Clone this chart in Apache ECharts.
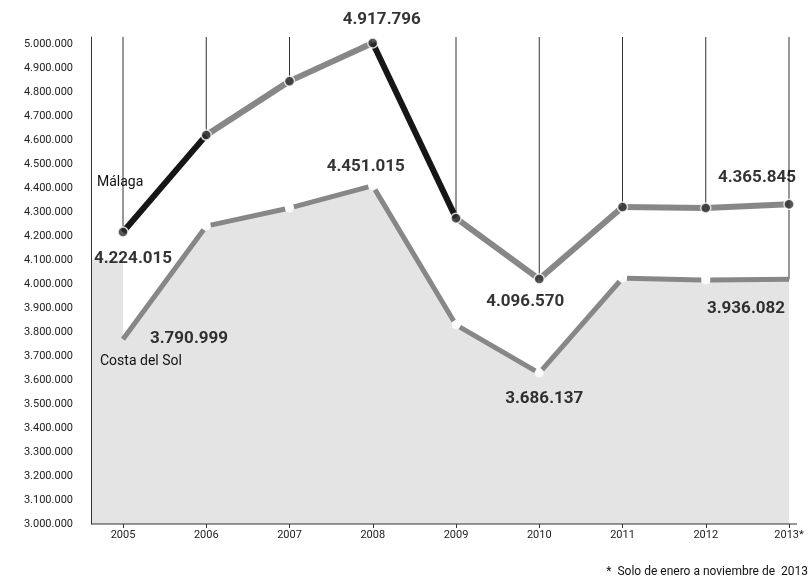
<!DOCTYPE html>
<html>
<head>
<meta charset="utf-8">
<script src="https://cdn.jsdelivr.net/npm/echarts@6/dist/echarts.min.js"></script>
<style>
html,body{margin:0;padding:0;background:#fff;}
#chart{width:810px;height:582px;}
</style>
</head>
<body>
<div id="chart"></div>
<script>
// ---- data ----
const categories = ['2005','2006','2007','2008','2009','2010','2011','2012','2013*'];
const malaga = [4217000, 4621000, 4846000, 5005000, 4275000, 4021000, 4321000, 4317000, 4333000];
const costaDelSol = [3770000, 4242000, 4317000, 4410000, 3830000, 3629000, 4025000, 4017000, 4020000];
const malagaLabels = ['4.224.015', '', '', '4.917.796', '', '4.096.570', '', '', '4.365.845'];
const costaLabels = ['3.790.999', '', '', '4.451.015', '', '3.686.137', '', '', '3.936.082'];
const yMin = 3000000, yMax = 5030000, yStep = 100000;
const seriesNames = ['Málaga', 'Costa del Sol'];
const footnote = '*  Solo de enero a noviembre de  2013';

// ---- style ----
const DARK = '#161616', GRAY = '#878787', AREA = '#e4e4e4';
const malagaSegColors = [DARK, GRAY, GRAY, DARK, GRAY, GRAY, GRAY, GRAY];
const malagaLabelOffsets = [[10,27],[0,0],[0,0],[9,-23],[0,0],[-14,23],[0,0],[0,0],[-32,-26]];
const costaLabelOffsets = [[66,-1],[0,0],[0,0],[-7,-19],[0,0],[5,26],[0,0],[0,0],[-43,29]];
const numFont = {fontFamily:'Roboto', fontWeight:'bold', fontSize:17, color:'#000'};
const fmt = v => String(v).replace(/\B(?=(\d{3})+(?!\d))/g, '.');
const n = categories.length;

function segSeries(values, colorFn, width, gap, z) {
  return {
    type: 'custom', z: z, silent: true,
    data: values.map((v, i) => [i, v]),
    encode: {x: 0, y: 1},
    renderItem: function (params, api) {
      const i = params.dataIndex;
      if (i >= values.length - 1) return null;
      const p0 = api.coord([i, values[i]]);
      const p1 = api.coord([i + 1, values[i + 1]]);
      const dx = p1[0] - p0[0], dy = p1[1] - p0[1];
      const L = Math.sqrt(dx * dx + dy * dy);
      const g0 = i === 0 ? 0 : gap, g1 = (i + 1 === values.length - 1) ? 0 : gap;
      return {
        type: 'line',
        shape: {
          x1: p0[0] + dx * g0 / L, y1: p0[1] + dy * g0 / L,
          x2: p1[0] - dx * g1 / L, y2: p1[1] - dy * g1 / L
        },
        style: {stroke: colorFn(i), lineWidth: width, lineCap: 'butt'}
      };
    }
  };
}

const chart = echarts.init(document.getElementById('chart'), null, {renderer: 'canvas'});
const option = {
  animation: false,
  backgroundColor: '#fff',
  grid: {left: 123, right: 21, top: 37, bottom: 58},
  xAxis: {
    type: 'category', data: categories, boundaryGap: false,
    axisLine: {show: false},
    axisTick: {show: true, length: 4, lineStyle: {color: '#333'}},
    axisLabel: {fontFamily: 'Roboto', fontSize: 11, color: '#222', margin: 6},
    splitLine: {show: false}
  },
  yAxis: {
    type: 'value', min: yMin, max: yMax, interval: yStep, offset: 32,
    axisLine: {show: true, lineStyle: {color: '#333', width: 1}},
    axisTick: {show: false},
    splitLine: {show: false},
    axisLabel: {
      fontFamily: 'Roboto', fontSize: 11, color: '#222', margin: 18,
      formatter: v => (v % yStep === 0 ? fmt(v) : '')
    }
  },
  series: [
    {type: 'line', data: costaDelSol, z: 1, silent: true, symbol: 'none',
     lineStyle: {width: 0}, areaStyle: {color: AREA, opacity: 1}},
    {type: 'custom', z: 2, silent: true,
     data: malaga.map((v, i) => [i, v]), encode: {x: 0, y: 1},
     renderItem: function (params, api) {
       const i = params.dataIndex;
       const top = params.coordSys.y;
       const p = api.coord([i, i === n - 1 ? costaDelSol[i] : malaga[i]]);
       if (p[1] - top < 6) return null;
       return {type: 'line', shape: {x1: p[0], y1: top, x2: p[0], y2: p[1]},
               style: {stroke: '#333', lineWidth: 1}};
     }},
    {type: 'scatter', z: 3, silent: true, data: costaDelSol.map((v, i) => ({
        value: v, symbolSize: (i === 0 || i === n - 1) ? 0 : 9,
        label: {offset: costaLabelOffsets[i]}})),
     itemStyle: {color: '#fff'},
     label: {show: true, position: 'inside', ...numFont,
             formatter: p => costaLabels[p.dataIndex]}},
    segSeries(costaDelSol, () => GRAY, 5, 4.5, 4),
    segSeries(malaga, i => malagaSegColors[i], 6, 0, 5),
    {type: 'scatter', z: 6, silent: true, symbolSize: 10,
     data: malaga.map((v, i) => ({value: v, label: {offset: malagaLabelOffsets[i]}})),
     itemStyle: {color: '#2e2e2e', borderColor: '#fff', borderWidth: 1.5},
     label: {show: true, position: 'inside', ...numFont,
             formatter: p => malagaLabels[p.dataIndex]}}
  ]
};
chart.setOption(option);

const o = chart.convertToPixel({xAxisIndex: 0, yAxisIndex: 0}, [0, yMin]);
const e = chart.convertToPixel({xAxisIndex: 0, yAxisIndex: 0}, [n - 1, yMin]);
const stripTop = chart.convertToPixel({xAxisIndex: 0, yAxisIndex: 0}, [0, 4100000]);
const mPt = chart.convertToPixel({xAxisIndex: 0, yAxisIndex: 0}, [0, malaga[0]]);
const cPt = chart.convertToPixel({xAxisIndex: 0, yAxisIndex: 0}, [0, costaDelSol[0]]);
const axisX = o[0] - 32;
chart.setOption({
  graphic: [
    {type: 'rect', z: 0, silent: true,
     shape: {x: axisX + 1, y: stripTop[1], width: o[0] - axisX - 1, height: o[1] - stripTop[1]},
     style: {fill: AREA}},
    {type: 'line', z: 10, silent: true,
     shape: {x1: axisX, y1: o[1], x2: e[0] + 8, y2: o[1]},
     style: {stroke: '#333', lineWidth: 1.2}},
    {type: 'text', z: 10, left: axisX + 6, top: mPt[1] - 57,
     style: {text: seriesNames[0], font: '14px Roboto', fill: '#111'}},
    {type: 'text', z: 10, left: axisX + 9, top: cPt[1] + 15,
     style: {text: seriesNames[1], font: '14px Roboto', fill: '#111'}},
    {type: 'text', z: 10, right: 2, top: 566,
     style: {text: footnote, font: '12px Roboto', fill: '#111'}}
  ]
});
</script>
</body>
</html>
